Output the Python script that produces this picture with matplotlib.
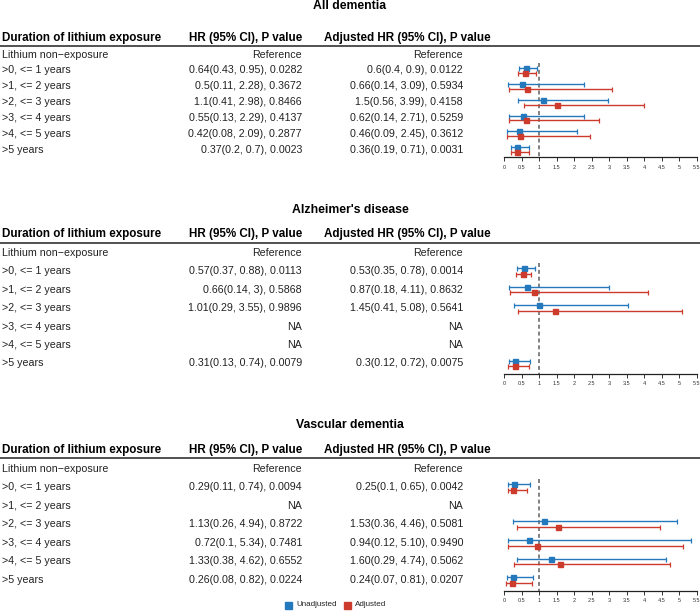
import numpy as np
import matplotlib
matplotlib.use('Agg')
import matplotlib.pyplot as plt
from matplotlib.lines import Line2D
from matplotlib.patches import Rectangle

plt.rcParams['font.family'] = ['Liberation Sans', 'DejaVu Sans']

W, H = 700, 616

titles = ['All dementia', "Alzheimer's disease", 'Vascular dementia']
durations = ['Lithium non\u2212exposure', '>0, <= 1 years', '>1, <= 2 years', '>2, <= 3 years',
             '>3, <= 4 years', '>4, <= 5 years', '>5 years']

# text columns as printed
hr_text = [
    ['Reference', '0.64(0.43, 0.95), 0.0282', '0.5(0.11, 2.28), 0.3672', '1.1(0.41, 2.98), 0.8466',
     '0.55(0.13, 2.29), 0.4137', '0.42(0.08, 2.09), 0.2877', '0.37(0.2, 0.7), 0.0023'],
    ['Reference', '0.57(0.37, 0.88), 0.0113', '0.66(0.14, 3), 0.5868', '1.01(0.29, 3.55), 0.9896',
     'NA', 'NA', '0.31(0.13, 0.74), 0.0079'],
    ['Reference', '0.29(0.11, 0.74), 0.0094', 'NA', '1.13(0.26, 4.94), 0.8722',
     '0.72(0.1, 5.34), 0.7481', '1.33(0.38, 4.62), 0.6552', '0.26(0.08, 0.82), 0.0224'],
]
adj_text = [
    ['Reference', '0.6(0.4, 0.9), 0.0122', '0.66(0.14, 3.09), 0.5934', '1.5(0.56, 3.99), 0.4158',
     '0.62(0.14, 2.71), 0.5259', '0.46(0.09, 2.45), 0.3612', '0.36(0.19, 0.71), 0.0031'],
    ['Reference', '0.53(0.35, 0.78), 0.0014', '0.87(0.18, 4.11), 0.8632', '1.45(0.41, 5.08), 0.5641',
     'NA', 'NA', '0.3(0.12, 0.72), 0.0075'],
    ['Reference', '0.25(0.1, 0.65), 0.0042', 'NA', '1.53(0.36, 4.46), 0.5081',
     '0.94(0.12, 5.10), 0.9490', '1.60(0.29, 4.74), 0.5062', '0.24(0.07, 0.81), 0.0207'],
]

# plotted estimates (rows >0 ... >5 years), nan = NA
hr = [[0.64, 0.5, 1.1, 0.55, 0.42, 0.37],
      [0.57, 0.66, 1.01, np.nan, np.nan, 0.31],
      [0.29, np.nan, 1.13, 0.72, 1.33, 0.26]]
hr_lo = [[0.43, 0.11, 0.41, 0.13, 0.08, 0.2],
         [0.37, 0.14, 0.29, np.nan, np.nan, 0.13],
         [0.11, np.nan, 0.26, 0.1, 0.38, 0.08]]
hr_hi = [[0.95, 2.28, 2.98, 2.29, 2.09, 0.7],
         [0.88, 3.0, 3.55, np.nan, np.nan, 0.74],
         [0.74, np.nan, 4.94, 5.34, 4.62, 0.82]]
adj = [[0.6, 0.66, 1.5, 0.62, 0.46, 0.36],
       [0.53, 0.87, 1.45, np.nan, np.nan, 0.3],
       [0.25, np.nan, 1.53, 0.94, 1.60, 0.24]]
adj_lo = [[0.4, 0.14, 0.56, 0.14, 0.09, 0.19],
          [0.35, 0.18, 0.41, np.nan, np.nan, 0.12],
          [0.1, np.nan, 0.36, 0.12, 0.29, 0.07]]
adj_hi = [[0.9, 3.09, 3.99, 2.71, 2.45, 0.71],
          [0.78, 4.11, 5.08, np.nan, np.nan, 0.72],
          [0.65, np.nan, 4.46, 5.10, 4.74, 0.81]]

xticks = [0, 0.5, 1, 1.5, 2, 2.5, 3, 3.5, 4, 4.5, 5, 5.5]
xtick_labels = ['0', '0.5', '1', '1.5', '2', '2.5', '3', '3.5', '4', '4.5', '5', '5.5']

blue = '#2479bd'
red = '#cc3b2c'
txt = '#222222'

# layout in pixels: title y, header y, underline y, first row y, row spacing, axis y
panels = [
    dict(title=6, header=38.5, line=46, row0=54.5, sp=15.9, axis=157.5),
    dict(title=210, header=234.5, line=242.5, row0=252.5, sp=18.5, axis=373.5),
    dict(title=425, header=450, line=458, row0=468.5, sp=18.6, axis=590.5),
]

fig = plt.figure(figsize=(W / 100, H / 100), dpi=100)


def fx(x):
    return x / W


def fy(y):
    return 1 - y / H


x0_px, x1_px = 504, 696.5

for p, lay in enumerate(panels):
    fig.text(fx(350), fy(lay['title']), titles[p], ha='center', va='center',
             fontsize=8.8, fontweight='bold', color='black')
    fig.text(fx(2), fy(lay['header']), 'Duration of lithium exposure', ha='left', va='center',
             fontsize=8.4, fontweight='bold', color='black')
    fig.text(fx(302), fy(lay['header']), 'HR (95% CI), P value', ha='right', va='center',
             fontsize=8.4, fontweight='bold', color='black')
    fig.text(fx(491), fy(lay['header']), 'Adjusted HR (95% CI), P value', ha='right', va='center',
             fontsize=8.4, fontweight='bold', color='black')
    fig.add_artist(Line2D([0, 1], [fy(lay['line'])] * 2, color='#333333', lw=1.2,
                          transform=fig.transFigure))
    for i in range(len(durations)):
        y = fy(lay['row0'] + i * lay['sp'])
        fig.text(fx(2), y, durations[i], ha='left', va='center', fontsize=7.7, color=txt)
        fig.text(fx(302), y, hr_text[p][i], ha='right', va='center', fontsize=7.7, color=txt)
        fig.text(fx(463), y, adj_text[p][i], ha='right', va='center', fontsize=7.7, color=txt)

    # forest axes: y in row units (row 0 = reference)
    top_px = lay['row0'] - 8
    ax = fig.add_axes([fx(x0_px), fy(lay['axis']), fx(x1_px) - fx(x0_px),
                       (lay['axis'] - top_px) / H])
    ybot = (lay['axis'] - lay['row0']) / lay['sp']
    ytop = (top_px - lay['row0']) / lay['sp']
    ax.set_xlim(0, 5.5)
    ax.set_ylim(ybot, ytop)
    ax.patch.set_visible(False)
    for s in ['top', 'right', 'left']:
        ax.spines[s].set_visible(False)
    ax.spines['bottom'].set_linewidth(0.9)
    ax.spines['bottom'].set_color('#222222')
    ax.set_yticks([])
    ax.set_xticks(xticks)
    ax.set_xticklabels(xtick_labels)
    ax.tick_params(axis='x', direction='out', length=3, width=0.7, pad=2.5,
                   labelsize=4.0, colors='#333333')

    ax.vlines(1, 0.55, ybot, colors='#777777', linestyles=(0, (2.2, 1.6)), lw=1.3, zorder=1)

    rows = np.arange(1, 7)
    h = np.array(hr[p]); lo = np.array(hr_lo[p]); hi = np.array(hr_hi[p])
    ok = ~np.isnan(h)
    ax.errorbar(h[ok], rows[ok] - 0.16, xerr=[h[ok] - lo[ok], hi[ok] - h[ok]], fmt='s',
                color=blue, ms=3.6, elinewidth=1.0, capsize=1.8, capthick=0.9, zorder=3)
    a = np.array(adj[p]); alo = np.array(adj_lo[p]); ahi = np.array(adj_hi[p])
    ok = ~np.isnan(a)
    ax.errorbar(a[ok], rows[ok] + 0.15, xerr=[a[ok] - alo[ok], ahi[ok] - a[ok]], fmt='s',
                color=red, ms=3.6, elinewidth=1.0, capsize=1.8, capthick=0.9, zorder=3)

# legend
ly = 605
fig.add_artist(Rectangle((fx(285), fy(ly + 3.5)), 7 / W, 7 / H, color=blue,
                         transform=fig.transFigure))
fig.text(fx(296), fy(ly), 'Unadjusted', ha='left', va='center', fontsize=5.8, color=txt)
fig.add_artist(Rectangle((fx(344), fy(ly + 3.5)), 7 / W, 7 / H, color=red,
                         transform=fig.transFigure))
fig.text(fx(355), fy(ly), 'Adjusted', ha='left', va='center', fontsize=5.8, color=txt)

fig.savefig('out.png', dpi=100)
